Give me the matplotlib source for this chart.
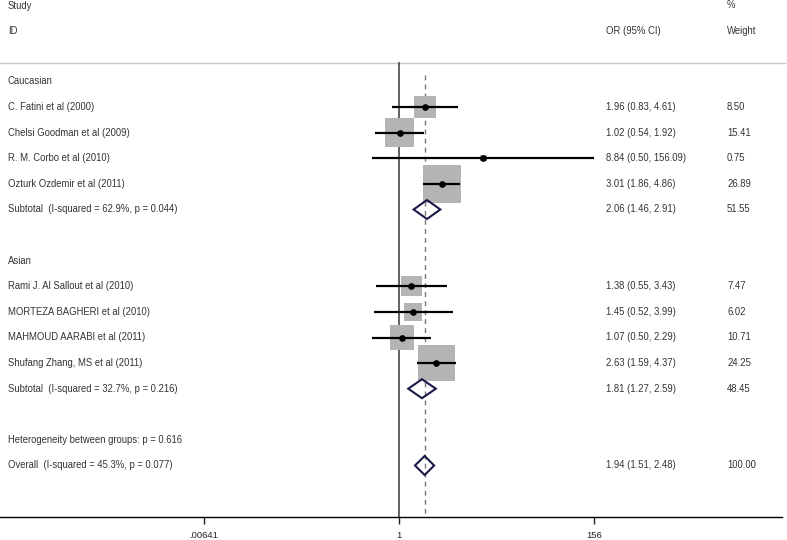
import numpy as np
import matplotlib
matplotlib.use("Agg")
import matplotlib.pyplot as plt
from matplotlib.patches import Rectangle, Polygon
from matplotlib.transforms import blended_transform_factory

plt.rcParams['font.family'] = ['Liberation Sans', 'DejaVu Sans']

# ---- data ----
studies = ["C. Fatini et al (2000)", "Chelsi Goodman et al (2009)", "R. M. Corbo et al (2010)",
           "Ozturk Ozdemir et al (2011)", "Rami J. Al Sallout et al (2010)",
           "MORTEZA BAGHERI et al (2010)", "MAHMOUD AARABI et al (2011)",
           "Shufang Zhang, MS et al (2011)"]
groups = ["Caucasian", "Caucasian", "Caucasian", "Caucasian", "Asian", "Asian", "Asian", "Asian"]
or_vals = [1.96, 1.02, 8.84, 3.01, 1.38, 1.45, 1.07, 2.63]
ci_lo = [0.83, 0.54, 0.50, 1.86, 0.55, 0.52, 0.50, 1.59]
ci_hi = [4.61, 1.92, 156.09, 4.86, 3.43, 3.99, 2.29, 4.37]
weights = [8.50, 15.41, 0.75, 26.89, 7.47, 6.02, 10.71, 24.25]

group_names = ["Caucasian", "Asian"]
sub_labels = ["Subtotal  (I-squared = 62.9%, p = 0.044)", "Subtotal  (I-squared = 32.7%, p = 0.216)"]
sub_or = [2.06, 1.81]
sub_lo = [1.46, 1.27]
sub_hi = [2.91, 2.59]
sub_w = [51.55, 48.45]

het_label = "Heterogeneity between groups: p = 0.616"
overall_label = "Overall  (I-squared = 45.3%, p = 0.077)"
overall_or, overall_lo, overall_hi, overall_w = 1.94, 1.51, 2.48, 100.00

tick_vals = [0.00641, 1, 156]
tick_labels = [".00641", "1", "156"]

# ---- layout ----
W, H, DPI = 787, 540, 100
fig = plt.figure(figsize=(W / DPI, H / DPI), dpi=DPI)
axis_y_px = 517
ax = fig.add_axes([0, (H - axis_y_px) / H, 782 / W, axis_y_px / H])
ax.set_xscale('log')
pxu = 38.7     # pixels per ln unit
x1 = 399       # pixel position of OR = 1
ax.set_xlim(np.exp(-x1 / pxu), np.exp((782 - x1) / pxu))
ax.set_ylim(axis_y_px, 0)
for s in ['top', 'right', 'left']:
    ax.spines[s].set_visible(False)
ax.spines['bottom'].set_linewidth(1.0)
ax.set_yticks([])
ax.set_xticks(tick_vals)
ax.set_xticklabels(tick_labels)
ax.xaxis.set_minor_locator(matplotlib.ticker.NullLocator())
ax.tick_params(axis='x', direction='out', length=5, width=1.0, labelsize=6.8, pad=5, colors='#222')

tr = blended_transform_factory(fig.transFigure, ax.transData)
fs = 6.85
tc = '#333333'
x_name, x_or, x_w = 8 / W, 606 / W, 727 / W

# header
ax.text(x_name, 6, "Study", transform=tr, fontsize=fs, color=tc, va='center')
ax.text(x_name, 31, "ID", transform=tr, fontsize=fs, color=tc, va='center')
ax.text(x_w, 5, "%", transform=tr, fontsize=fs, color=tc, va='center')
ax.text(x_or, 31, "OR (95% CI)", transform=tr, fontsize=fs, color=tc, va='center')
ax.text(x_w, 31, "Weight", transform=tr, fontsize=fs, color=tc, va='center')
ax.plot([0, 785 / W], [63, 63], transform=tr, color='#c8c8c8', lw=1.0, clip_on=False)

y0, dy = 81.5, 25.6
def row_y(i):
    return y0 + dy * i

# reference lines
ax.plot([1, 1], [63, axis_y_px], color='#555555', lw=1.3)
ax.plot([overall_or, overall_or], [75, axis_y_px], color='#777777', lw=1.0, ls=(0, (3.5, 3)))

def fmt(o, l, h):
    return f"{o:.2f} ({l:.2f}, {h:.2f})"

def diamond(y, o, l, h):
    hh = 9.5
    poly = Polygon([(l, y), (o, y - hh), (h, y), (o, y + hh)], closed=True,
                   facecolor='none', edgecolor='#1a1a4a', lw=1.5, zorder=5)
    ax.add_patch(poly)

row = 0
for g_i, g in enumerate(group_names):
    ax.text(x_name, row_y(row), g, transform=tr, fontsize=fs, color=tc, va='center')
    row += 1
    for k in range(len(studies)):
        if groups[k] != g:
            continue
        y = row_y(row)
        side = 7.35 * np.sqrt(weights[k])
        hw = side / 2 / pxu
        o = or_vals[k]
        ax.add_patch(Rectangle((o * np.exp(-hw), y - side / 2), o * (np.exp(hw) - np.exp(-hw)), side,
                               facecolor='#b4b4b4', edgecolor='none', zorder=2))
        ax.plot([ci_lo[k], ci_hi[k]], [y, y], color='black', lw=1.6, zorder=3, solid_capstyle='butt')
        ax.plot([o], [y], 'o', color='black', ms=3.8, zorder=4)
        ax.text(x_name, y, studies[k], transform=tr, fontsize=fs, color=tc, va='center')
        ax.text(x_or, y, fmt(o, ci_lo[k], ci_hi[k]), transform=tr, fontsize=fs, color=tc, va='center')
        ax.text(x_w, y, f"{weights[k]:.2f}", transform=tr, fontsize=fs, color=tc, va='center')
        row += 1
    y = row_y(row)
    diamond(y, sub_or[g_i], sub_lo[g_i], sub_hi[g_i])
    ax.text(x_name, y, sub_labels[g_i], transform=tr, fontsize=fs, color=tc, va='center')
    ax.text(x_or, y, fmt(sub_or[g_i], sub_lo[g_i], sub_hi[g_i]), transform=tr, fontsize=fs, color=tc, va='center')
    ax.text(x_w, y, f"{sub_w[g_i]:.2f}", transform=tr, fontsize=fs, color=tc, va='center')
    row += 2

ax.text(x_name, row_y(row), het_label, transform=tr, fontsize=fs, color=tc, va='center')
row += 1
y = row_y(row)
diamond(y, overall_or, overall_lo, overall_hi)
ax.text(x_name, y, overall_label, transform=tr, fontsize=fs, color=tc, va='center')
ax.text(x_or, y, fmt(overall_or, overall_lo, overall_hi), transform=tr, fontsize=fs, color=tc, va='center')
ax.text(x_w, y, f"{overall_w:.2f}", transform=tr, fontsize=fs, color=tc, va='center')

fig.savefig("out.png", dpi=DPI)
